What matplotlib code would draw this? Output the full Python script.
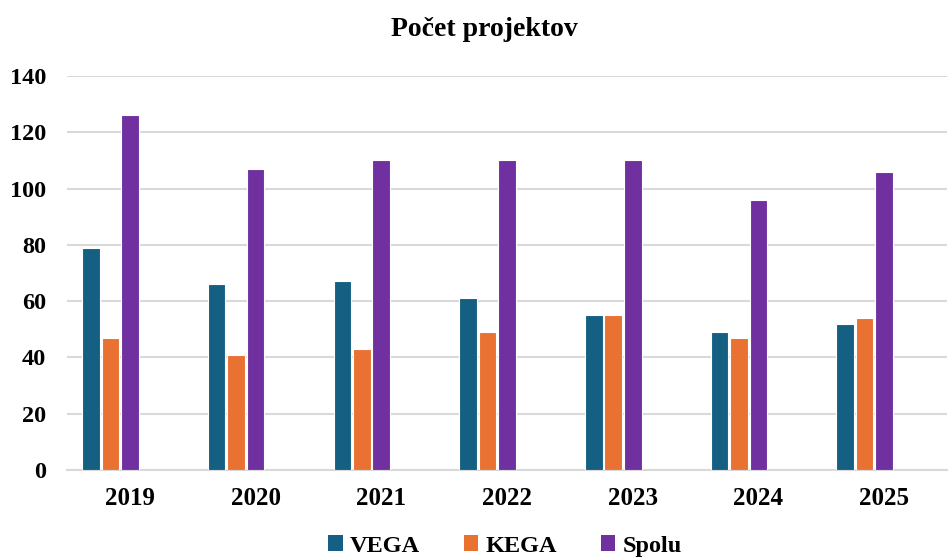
import numpy as np
import matplotlib
matplotlib.use("Agg")
import matplotlib.pyplot as plt
from matplotlib.patches import Patch

plt.rcParams['font.family'] = ['Liberation Serif', 'DejaVu Serif']
plt.rcParams['font.weight'] = 'bold'

# data
years = ['2019', '2020', '2021', '2022', '2023', '2024', '2025']
vega = [79, 66, 67, 61, 55, 49, 52]
kega = [47, 41, 43, 49, 55, 47, 54]
spolu = [126, 107, 110, 110, 110, 96, 106]
series_names = ['VEGA', 'KEGA', 'Spolu']
colors = ['#156082', '#E97132', '#7030A0']

fig = plt.figure(figsize=(9.48, 5.58), dpi=100)
ax = fig.add_axes([67/948, 1-470/558, 880/948, 394/558])

x = np.arange(len(years))
step = 0.155
width = 0.14
for i, (vals, c) in enumerate(zip([vega, kega, spolu], colors)):
    ax.bar(x + (i-2)*step, vals, width, color=c, edgecolor='white',
           linewidth=0.8, zorder=3)

ax.set_xlim(-0.5, len(years)-0.5)
ax.set_ylim(0, 140)
ax.set_yticks(range(0, 141, 20))
ax.set_xticks(x)
ax.set_xticklabels(years)
ax.tick_params(axis='x', length=0, labelsize=18, pad=12)
ax.tick_params(axis='y', length=0, labelsize=17.5, pad=15)
for lab in ax.get_xticklabels() + ax.get_yticklabels():
    lab.set_fontweight('bold')

ax.grid(axis='y', color='#D9D9D9', linewidth=1.5, zorder=0)
for s in ['top', 'right', 'left']:
    ax.spines[s].set_visible(False)
ax.spines['bottom'].set_color('#D9D9D9')
ax.spines['bottom'].set_linewidth(1.5)

fig.text(484/948, 1-29/558, 'Počet projektov', ha='center', va='center',
         fontsize=20, fontweight='bold')

handles = [Patch(facecolor=c, edgecolor='none') for c in colors]
fig.legend(handles, series_names, loc='center', bbox_to_anchor=(505/948, 1-546/558),
           ncol=3, frameon=False, prop={'size': 17.5, 'weight': 'bold'},
           handlelength=0.6, handleheight=0.6, handletextpad=0.3, columnspacing=1.8)

fig.savefig('out.png', dpi=100)
